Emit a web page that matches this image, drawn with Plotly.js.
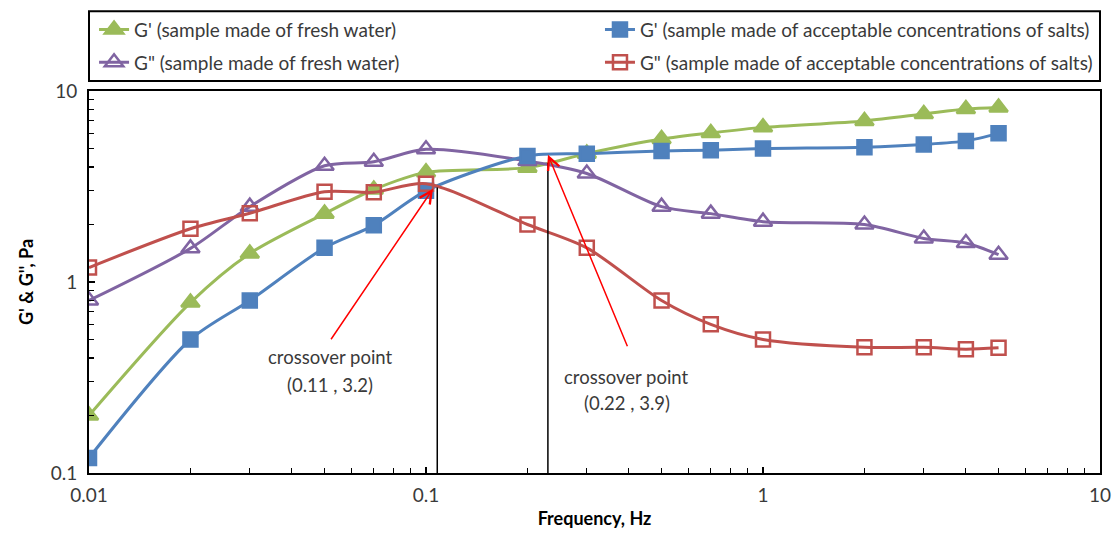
<!DOCTYPE html>
<html>
<head>
<meta charset="utf-8">
<script src="https://cdn.plot.ly/plotly-3.0.1.min.js"></script>
<style>html,body{margin:0;padding:0;background:#fff;}#chart{width:1114px;height:540px;}</style>
</head>
<body>
<div id="chart"></div>
<script>
const freq = [0.01, 0.02, 0.03, 0.05, 0.07, 0.1, 0.2, 0.3, 0.5, 0.7, 1, 2, 3, 4, 5];
const gPrimeFresh  = [0.2, 0.78, 1.41, 2.28, 3.05, 3.75, 3.97, 4.7, 5.6, 6.03, 6.45, 6.97, 7.58, 8.05, 8.2];
const gPrimeSalt   = [0.12, 0.5, 0.8, 1.51, 1.98, 3.0, 4.57, 4.7, 4.85, 4.9, 5.0, 5.08, 5.25, 5.48, 6.0];
const gDoubleFresh = [0.8, 1.5, 2.48, 4.06, 4.26, 4.95, 4.3, 3.7, 2.48, 2.28, 2.07, 2.0, 1.69, 1.6, 1.39];
const gDoubleSalt  = [1.19, 1.9, 2.29, 2.97, 2.95, 3.27, 2.0, 1.51, 0.8, 0.6, 0.5, 0.455, 0.455, 0.445, 0.452];
const crossoverFreq = [0.108, 0.23];
const crossoverG = [3.12, 4.2];
const axisFloor = 0.1;
const crossoverLabels = ["crossover point", "(0.11 , 3.2)", "crossover point", "(0.22 , 3.9)"];
const xTicks = [0.01, 0.1, 1, 10];
const xTickText = ["0.01", "0.1", "1", "10"];
const yTicks = [0.1, 1, 10];
const yTickText = ["0.1", "1", "10"];

const FONT = "Lato, 'Open Sans', sans-serif";
const TEXT = "#3a3a3a";
const green = "#9BBB59", blue = "#4F81BD", purple = "#8064A2", red = "#C0504D";

function series(name, y, color, symbol, legend, group) {
  return {
    x: freq, y: y, name: name, type: "scatter", mode: "lines+markers",
    legend: legend, legendgroup: group,
    line: {color: color, width: 3, shape: "spline", smoothing: 0.8},
    marker: {symbol: symbol, size: symbol.indexOf("triangle") === 0 ? 16 : 14, color: color,
             line: {color: color, width: 2.5}}
  };
}

const traces = [
  series("G' (sample made of fresh water)", gPrimeFresh, green, "triangle-up", "legend", "a"),
  series("G\" (sample made of fresh water)", gDoubleFresh, purple, "triangle-up-open", "legend", "b"),
  series("G' (sample made of acceptable concentrations of salts)", gPrimeSalt, blue, "square", "legend2", "c"),
  series("G\" (sample made of acceptable concentrations of salts)", gDoubleSalt, red, "square-open", "legend2", "d")
];
crossoverFreq.forEach(function (f, i) {
  traces.push({x: [f, f], y: [axisFloor, crossoverG[i]], type: "scatter", mode: "lines",
    showlegend: false, hoverinfo: "skip", line: {color: "#000", width: 1.5}});
});

const annotations = [
  {xref: "paper", yref: "paper", x: 0.3403, y: 0.7441, ax: -103, ay: 152, text: "",
   showarrow: true, arrowhead: 5, arrowsize: 1.6, arrowwidth: 1.5, arrowcolor: "#FF0000"},
  {xref: "paper", yref: "paper", x: 0.4540, y: 0.8329, ax: 80, ay: 193, text: "",
   showarrow: true, arrowhead: 5, arrowsize: 1.6, arrowwidth: 1.5, arrowcolor: "#FF0000"}
];
const labelPos = [[0.2384, 0.3042], [0.2384, 0.2313], [0.5321, 0.2507], [0.5321, 0.1828]];
crossoverLabels.forEach(function (t, i) {
  annotations.push({xref: "paper", yref: "paper", x: labelPos[i][0], y: labelPos[i][1],
    text: t, showarrow: false, xanchor: "center", yanchor: "middle",
    font: {family: FONT, size: 18.5, color: TEXT}});
});

const layout = {
  width: 1114, height: 540,
  margin: {l: 89, r: 14, t: 90, b: 67},
  paper_bgcolor: "#fff", plot_bgcolor: "#fff",
  font: {family: FONT, size: 19, color: TEXT},
  xaxis: {type: "log", range: [-2, 1], tickvals: xTicks, ticktext: xTickText,
    ticks: "inside", ticklen: 6, tickwidth: 1.5, tickcolor: "#000", ticklabelstandoff: 4,
    minor: {ticks: "inside", ticklen: 5, tickwidth: 1.2, tickcolor: "#000", dtick: "D1"},
    showgrid: false, zeroline: false, showline: true, linecolor: "#000", linewidth: 2, mirror: true,
    tickfont: {family: FONT, size: 19, color: TEXT},
    title: {text: "<b>Frequency, Hz</b>", font: {family: FONT, size: 18, color: "#000"}, standoff: 8}},
  yaxis: {type: "log", range: [-1, 1], tickvals: yTicks, ticktext: yTickText,
    ticks: "inside", ticklen: 6, tickwidth: 1.5, tickcolor: "#000", ticklabelstandoff: 6,
    minor: {ticks: "inside", ticklen: 5, tickwidth: 1.2, tickcolor: "#000", dtick: "D1"},
    showgrid: false, zeroline: false, showline: true, linecolor: "#000", linewidth: 2, mirror: true,
    tickfont: {family: FONT, size: 19, color: TEXT},
    title: {text: "<b>G' & G'', Pa</b>", font: {family: FONT, size: 18, color: "#000"}, standoff: 12}},
  showlegend: true,
  legend: {x: 0.005, y: 1.207, xanchor: "left", yanchor: "top", orientation: "v",
    traceorder: "grouped", tracegroupgap: 5, bgcolor: "rgba(0,0,0,0)", borderwidth: 0,
    font: {family: FONT, size: 19, color: TEXT}},
  legend2: {x: 0.998, y: 1.207, xanchor: "right", yanchor: "top", orientation: "v",
    traceorder: "grouped", tracegroupgap: 5, bgcolor: "rgba(0,0,0,0)", borderwidth: 0,
    font: {family: FONT, size: 19, color: TEXT}},
  shapes: [{type: "rect", xref: "paper", yref: "paper", x0: 0, x1: 1, y0: 1.026, y1: 1.209,
    line: {color: "#000", width: 2}, fillcolor: "rgba(0,0,0,0)"}],
  annotations: annotations
};

Plotly.newPlot("chart", traces, layout, {displayModeBar: false, staticPlot: true});
</script>
</body>
</html>
